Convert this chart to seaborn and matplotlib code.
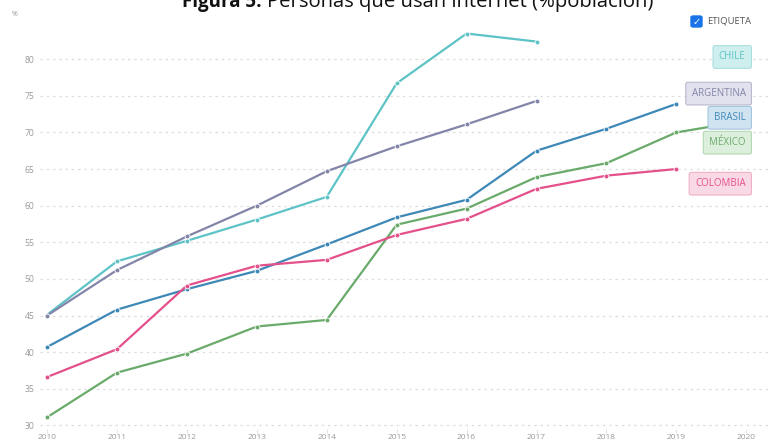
import matplotlib
matplotlib.use("Agg")
import matplotlib.pyplot as plt
import seaborn as sns
import pandas as pd
from matplotlib.patches import FancyBboxPatch

years = list(range(2010, 2021))
chile = [45.1, 52.4, 55.2, 58.1, 61.2, 76.7, 83.5, 82.4, None, None, None]
argentina = [45.0, 51.2, 55.8, 60.0, 64.7, 68.1, 71.1, 74.3, None, None, None]
brasil = [40.7, 45.8, 48.6, 51.1, 54.7, 58.4, 60.8, 67.5, 70.5, 73.9, None]
mexico = [31.1, 37.2, 39.8, 43.5, 44.4, 57.4, 59.6, 63.9, 65.8, 70.0, 71.6]
colombia = [36.6, 40.4, 49.1, 51.8, 52.6, 56.0, 58.2, 62.3, 64.1, 65.0, None]

countries = ["CHILE", "ARGENTINA", "BRASIL", "MÉXICO", "COLOMBIA"]
series = [chile, argentina, brasil, mexico, colombia]
colors = ["#5ec3c6", "#8385a8", "#3e88b8", "#6aaa6a", "#e4508b"]
box_fill = ["#cfeeee", "#e2e2ee", "#d0e3f1", "#dcefdc", "#f9d9e5"]
box_edge = ["#a9dfdf", "#b9b9cf", "#a5c6e0", "#b4d8b4", "#efb0c8"]
label_y = [80.3, 75.3, 72.0, 68.6, 63.0]
yticks = [30, 35, 40, 45, 50, 55, 60, 65, 70, 75, 80]

rows = []
for name, vals in zip(countries, series):
    for yr, v in zip(years, vals):
        if v is not None:
            rows.append({"year": yr, "value": v, "country": name})
df = pd.DataFrame(rows)

sns.set_theme(style="white")
plt.rcParams["font.family"] = ["Open Sans", "DejaVu Sans"]

fig = plt.figure(figsize=(7.68, 4.45), dpi=100)
ax = fig.add_axes([40 / 768, 1 - 429 / 445, 1 - 40 / 768, 405 / 445])

sns.lineplot(data=df, x="year", y="value", hue="country", hue_order=countries,
             palette=colors, marker="o", markersize=3.5, markeredgecolor="white",
             markeredgewidth=0.6, linewidth=1.6, ax=ax, legend=False)

ax.set_xlim(2009.9, 2020.31)
ax.set_ylim(29.51, 84.8)
ax.set_xticks(years)
ax.set_xticklabels([str(y) for y in years])
ax.set_yticks(yticks)
ax.set_yticklabels([str(t) for t in yticks])
ax.set_xlabel("")
ax.set_ylabel("")
ax.grid(False)
for t in yticks:
    ax.axhline(t, color="#dedede", linewidth=0.9, linestyle=(0, (2, 3)), zorder=0)
for s in ax.spines.values():
    s.set_visible(False)
ax.tick_params(axis="y", length=0, labelsize=6.2, colors="#9a9a9a", pad=4)
ax.tick_params(axis="x", length=3, width=0.6, color="#dddddd", labelsize=6.0,
               colors="#9a9a9a", pad=0.5, bottom=True)
for lab in ax.get_xticklabels() + ax.get_yticklabels():
    lab.set_color("#9a9a9a")

for name, ly, c, f, e in zip(countries, label_y, colors, box_fill, box_edge):
    ax.text(2019.99, ly, name, ha="right", va="center", fontsize=7, color=c,
            zorder=10,
            bbox=dict(boxstyle="round,pad=0.6,rounding_size=0.2", facecolor=f,
                      edgecolor=e, linewidth=0.8))

# checkbox + ETIQUETA
cb = FancyBboxPatch((691 / 768, 1 - 27 / 445), 11 / 768, 11 / 445,
                    boxstyle="round,pad=0,rounding_size=0.003",
                    transform=fig.transFigure, facecolor="#1a73e8", edgecolor="#1a73e8")
fig.patches.append(cb)
fig.text(696.5 / 768, 1 - 21.5 / 445, "\u2713", ha="center", va="center", color="white",
         fontsize=7, fontweight="bold", family=["DejaVu Sans"])
fig.text(707 / 768, 1 - 21 / 445, "ETIQUETA", ha="left", va="center", fontsize=6.8,
         color="#555555")

fig.text(12 / 768, 1 - 15 / 445, "%", ha="left", va="center", fontsize=5, color="#9a9a9a")

# title (cut at top, as in the reference)
t1 = fig.text(182 / 768, 1 - 7 / 445, "Figura 5.", ha="left", va="baseline",
              fontsize=13.5, fontweight="bold", color="#111111")
fig.canvas.draw()
bb = t1.get_window_extent(renderer=fig.canvas.get_renderer())
x_rest = (bb.x1 + 5) / fig.bbox.width
fig.text(x_rest, 1 - 7 / 445, "Personas que usan internet (%población)", ha="left",
         va="baseline", fontsize=14.6, color="#111111")

fig.savefig("out.png", dpi=100)
